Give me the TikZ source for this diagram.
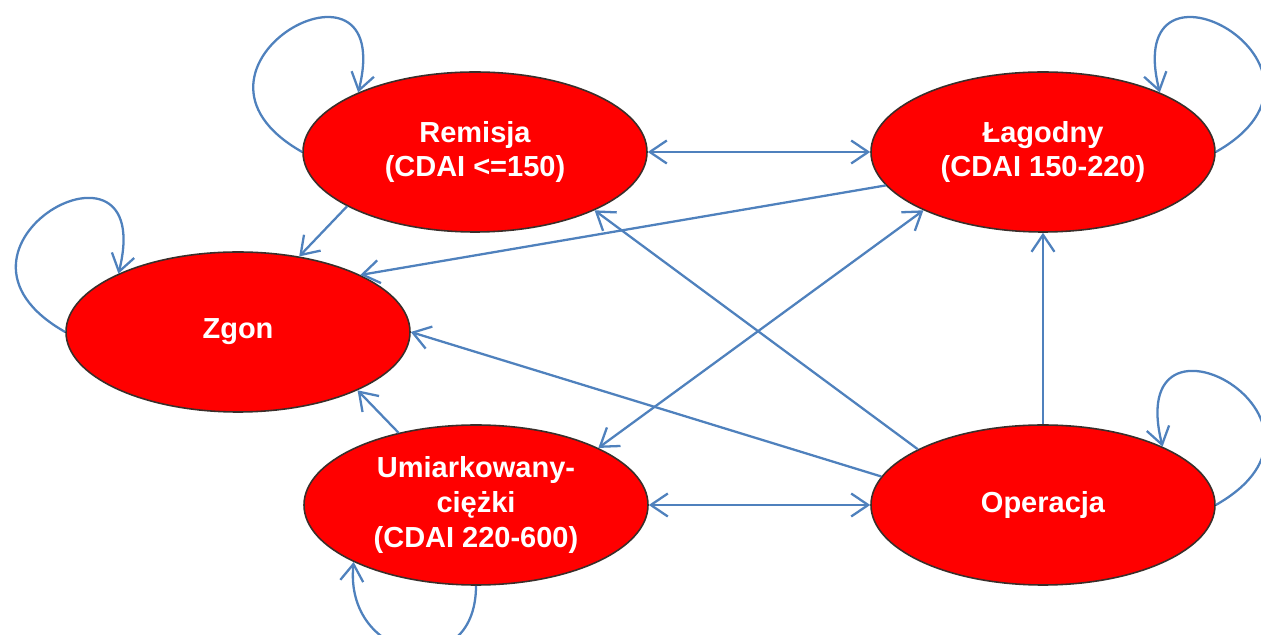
\documentclass[tikz,border=0pt]{standalone}
\usepackage{fontspec}
\setmainfont{Liberation Sans}
\usepackage{tikz}
\usetikzlibrary{arrows.meta,shapes.geometric}
\definecolor{st-fill}{HTML}{FF0000}
\definecolor{st-edge}{HTML}{3A2E2A}
\definecolor{st-line}{HTML}{4F81BD}

\begin{document}
\begin{tikzpicture}[
    state/.style={ellipse, draw=st-edge, line width=0.9pt, fill=st-fill,
      minimum width=6.88cm, minimum height=3.2cm, inner sep=0pt,
      text=white, align=center,
      font=\fontsize{16.5}{19.9}\selectfont\bfseries},
    arr/.style={draw=st-line, line width=1.3pt,
      -{Straight Barb[length=3.4mm, width=4.6mm]}},
    both/.style={arr, {Straight Barb[length=3.4mm, width=4.6mm]}-{Straight Barb[length=3.4mm, width=4.6mm]}}
  ]
    \useasboundingbox (0,0) rectangle (25.22,12.7);

    % stany
    \node[state] (rem)  at (9.5,9.66)   {Remisja\\(CDAI <=150)};
    \node[state] (lag)  at (20.86,9.66) {Łagodny\\(CDAI 150-220)};
    \node[state] (zgon) at (4.76,6.06)  {Zgon};
    \node[state] (umi)  at (9.52,2.6)   {Umiarkowany-\\ciężki\\(CDAI 220-600)};
    \node[state] (ope)  at (20.86,2.6)  {Operacja};

    % przejscia
    \draw[both] (rem.east) -- (lag.west);
    \draw[both] (umi.east) -- (ope.west);
    \draw[both] (lag.206) -- (umi.25);
    \draw[arr] (rem.203) -- (zgon.51);
    \draw[arr] (lag.192) -- (zgon.25);
    \draw[arr] (ope.170) -- (zgon.east);
    \draw[arr] (umi.137) -- (zgon.-26);
    \draw[arr] (ope.156) -- (rem.-26);
    \draw[arr] (ope.north) -- (lag.south);

    % petle
    \draw[arr] (rem.180) .. controls +(-3.0,1.7) and +(0.8,3.2) .. (rem.153);
    \draw[arr] (zgon.180) .. controls +(-3.0,1.7) and +(0.8,3.2) .. (zgon.154);
    \draw[arr] (lag.0) .. controls +(3.0,1.7) and +(-0.8,3.2) .. (lag.27);
    \draw[arr] (ope.0) .. controls +(3.0,1.7) and +(-0.8,3.2) .. (ope.26);
    \draw[arr] (umi.south) .. controls +(0,-2) and +(-0.2,-2) .. (umi.205);
\end{tikzpicture}
\end{document}
